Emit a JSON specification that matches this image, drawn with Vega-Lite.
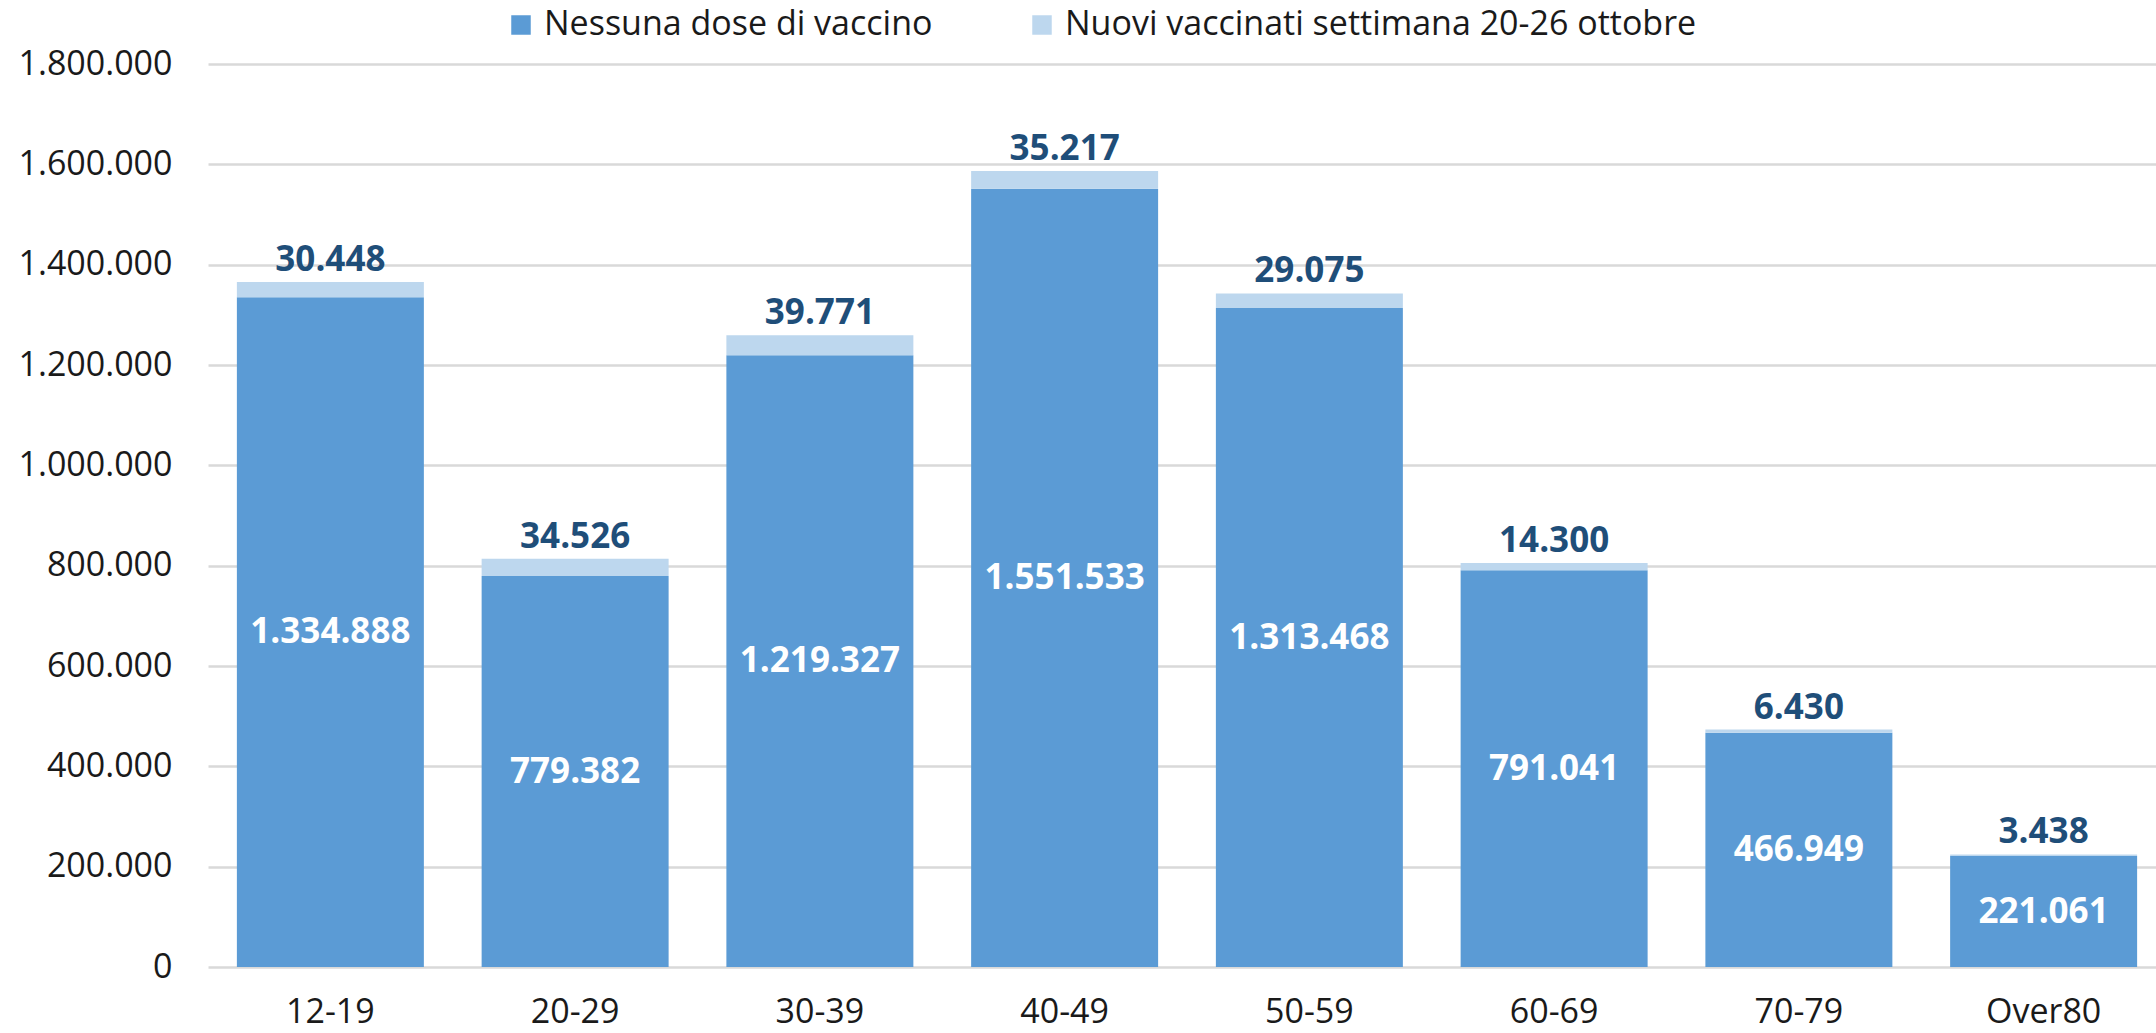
{
  "$schema": "https://vega.github.io/schema/vega-lite/v6.json",
  "autosize": "none",
  "width": 1958,
  "height": 903,
  "padding": {"left": 208, "top": 64, "right": 0, "bottom": 66},
  "background": "white",
  "config": {
    "locale": {"number": {"decimal": ",", "thousands": ".", "grouping": [3], "currency": ["€", ""]}},
    "font": "Open Sans",
    "view": {"stroke": null}
  },
  "datasets": {
    "d": [
      {"eta": "12-19", "nessuna": 1334888, "nuovi": 30448},
      {"eta": "20-29", "nessuna": 779382, "nuovi": 34526},
      {"eta": "30-39", "nessuna": 1219327, "nuovi": 39771},
      {"eta": "40-49", "nessuna": 1551533, "nuovi": 35217},
      {"eta": "50-59", "nessuna": 1313468, "nuovi": 29075},
      {"eta": "60-69", "nessuna": 791041, "nuovi": 14300},
      {"eta": "70-79", "nessuna": 466949, "nuovi": 6430},
      {"eta": "Over80", "nessuna": 221061, "nuovi": 3438}
    ]
  },
  "data": {"name": "d"},
  "encoding": {
    "x": {
      "field": "eta", "type": "nominal", "sort": null,
      "scale": {"paddingInner": 0.236, "paddingOuter": 0.118},
      "axis": {"title": null, "labelAngle": 0, "domain": false, "ticks": false, "labelFontSize": 34, "labelColor": "#1a1a1a", "labelPadding": 28, "labelFont": "Open Sans"}
    }
  },
  "layer": [
    {
      "transform": [{"fold": ["nessuna", "nuovi"], "as": ["serie", "valore"]}],
      "mark": {"type": "bar"},
      "encoding": {
        "y": {
          "field": "valore", "type": "quantitative", "aggregate": "sum", "stack": "zero",
          "scale": {"domain": [0, 1800000], "nice": false},
          "axis": {"title": null, "format": ",.0f", "values": [0, 200000, 400000, 600000, 800000, 1000000, 1200000, 1400000, 1600000, 1800000], "domain": false, "ticks": false, "labelPadding": 36, "labelFontSize": 34, "labelColor": "#1a1a1a", "gridColor": "#d9d9d9", "gridWidth": 2.5, "labelFont": "Open Sans"}
        },
        "color": {
          "field": "serie", "type": "nominal",
          "scale": {"domain": ["nessuna", "nuovi"], "range": ["#5b9bd5", "#bdd7ee"]},
          "legend": {
            "title": null, "orient": "none", "direction": "horizontal",
            "legendX": 296, "legendY": -56,
            "symbolType": "square", "symbolSize": 380, "symbolStrokeWidth": 0,
            "labelFontSize": 34, "labelColor": "#1a1a1a", "labelOffset": 6,
            "columnPadding": 92, "labelLimit": 900,
            "labelExpr": "datum.label == 'nessuna' ? 'Nessuna dose di vaccino' : 'Nuovi vaccinati settimana 20-26 ottobre'"
          }
        },
        "order": {"field": "serie", "sort": "ascending"}
      }
    },
    {
      "transform": [{"fold": ["nessuna", "nuovi"], "as": ["serie", "valore"]}],
      "mark": {"type": "text", "fontWeight": "bold", "fontSize": 35, "color": "#1f4e79", "baseline": "bottom", "dy": -4},
      "encoding": {
        "y": {"field": "valore", "type": "quantitative", "aggregate": "sum", "scale": {"domain": [0, 1800000], "nice": false}, "axis": null},
        "text": {"field": "nuovi", "type": "quantitative", "aggregate": "max", "format": ",.0f"}
      }
    },
    {
      "mark": {"type": "text", "fontWeight": "bold", "fontSize": 35, "color": "white", "baseline": "middle"},
      "encoding": {
        "y": {"field": "nessuna", "type": "quantitative", "scale": {"domain": [0, 3600000], "nice": false}, "axis": null},
        "text": {"field": "nessuna", "type": "quantitative", "format": ",.0f"}
      }
    }
  ],
  "resolve": {"scale": {"y": "independent"}}
}
